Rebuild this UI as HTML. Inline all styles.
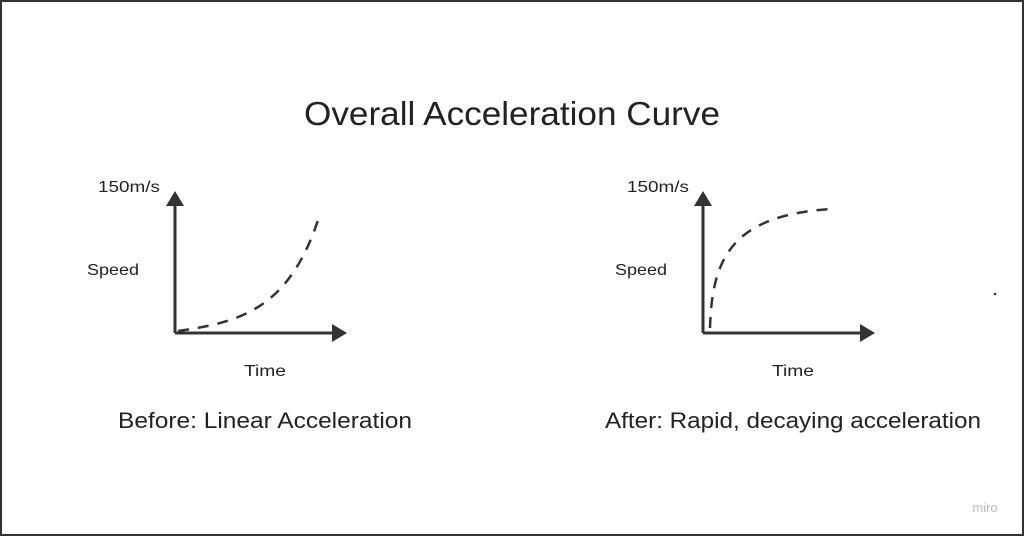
<!DOCTYPE html>
<html><head><style>
html,body{margin:0;padding:0;background:#fff}
body{width:1024px;height:536px;overflow:hidden;position:relative}
.frame{position:absolute;left:0;top:0;width:1020px;height:532px;border:2px solid #333}
</style></head><body>
<div class="frame"></div>
<svg width="1024" height="536" style="position:absolute;left:0;top:0" font-family="'Liberation Sans',sans-serif" fill="#222">
<text x="304" y="125" font-size="33" textLength="416" lengthAdjust="spacingAndGlyphs">Overall Acceleration Curve</text>
<!-- left -->
<text x="98" y="192" font-size="16" textLength="62" lengthAdjust="spacingAndGlyphs">150m/s</text>
<text x="87" y="275" font-size="16" textLength="52" lengthAdjust="spacingAndGlyphs">Speed</text>
<text x="244" y="376" font-size="16" textLength="42" lengthAdjust="spacingAndGlyphs">Time</text>
<text x="118" y="428" font-size="22" textLength="294" lengthAdjust="spacingAndGlyphs">Before: Linear Acceleration</text>
<g stroke="#333" stroke-width="3" fill="none">
<path d="M175,333 V200 M175,333 H337"/>
<path d="M178,331 C240,322 290,310 320,214" stroke-dasharray="11,9" stroke-width="2.5"/>
<path d="M703,333 V200 M703,333 H865"/>
<path d="M710,328 C712,260 730,215 832,209" stroke-dasharray="11,9" stroke-width="2.5"/>
</g>
<polygon points="175,191 166,206 184,206" fill="#333"/>
<polygon points="347,333 332,324 332,342" fill="#333"/>
<polygon points="703,191 694,206 712,206" fill="#333"/>
<polygon points="875,333 860,324 860,342" fill="#333"/>
<circle cx="995" cy="294" r="1.3" fill="#333"/>
<!-- right -->
<text x="627" y="192" font-size="16" textLength="62" lengthAdjust="spacingAndGlyphs">150m/s</text>
<text x="615" y="275" font-size="16" textLength="52" lengthAdjust="spacingAndGlyphs">Speed</text>
<text x="772" y="376" font-size="16" textLength="42" lengthAdjust="spacingAndGlyphs">Time</text>
<text x="605" y="428" font-size="22" textLength="376" lengthAdjust="spacingAndGlyphs">After: Rapid, decaying acceleration</text>
<text x="985" y="512" font-size="13" fill="#bbb" text-anchor="middle">miro</text>
</svg>
</body></html>
